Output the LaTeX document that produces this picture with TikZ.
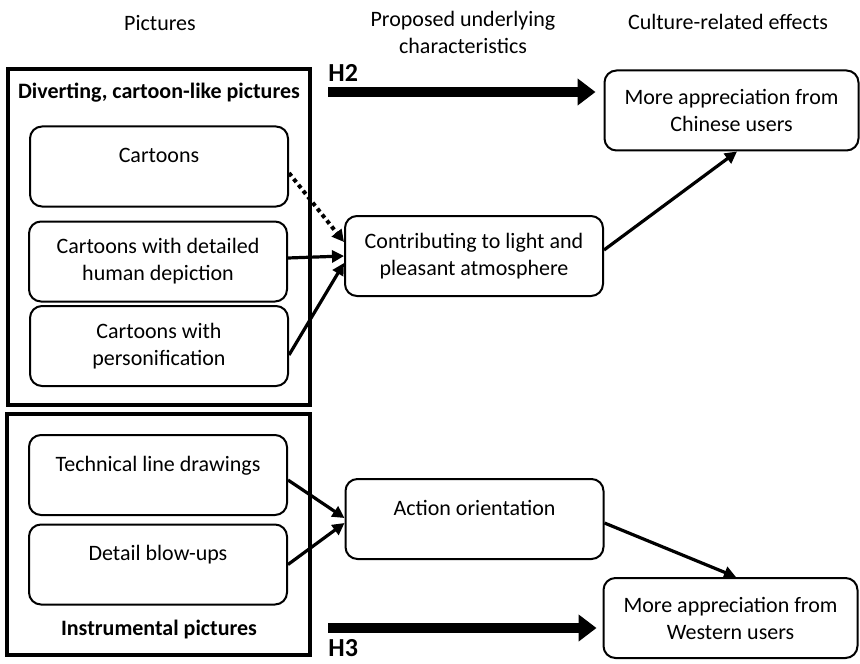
\documentclass[tikz,border=0pt]{standalone}
\usepackage{fontspec}
\setmainfont{Carlito}
\usetikzlibrary{arrows.meta}
\def\divertframe{(8,69) rectangle (310,405)}
\def\instrframe{(7,414) rectangle (310,655)}
\tikzset{itembox/.style={draw, line width=1pt, rounded corners=6pt, minimum width=129pt, minimum height=40pt, align=center, inner sep=2pt},
	topline/.style={text height=8pt, text depth=12pt},
	outerframe/.style={draw, line width=1.8pt},
	grouplabel/.style={font=\bfseries},
	hyplabel/.style={font=\bfseries\fontsize{13}{15}\selectfont, inner sep=1pt},
	link/.style={line width=1.6pt, -{Triangle[length=6pt,width=6pt]}},
	hypo/.style={line width=5pt, -{Triangle[length=9pt,width=13pt]}}}

\begin{document}
\fontsize{11}{13.5}\selectfont
\begin{tikzpicture}[x=0.5pt, y=-0.5pt]
		\useasboundingbox (0,0) rectangle (860,663);
		\node (hpics) at (160,23) {Pictures};
		\node[align=center] (hchar) at (463,32) {Proposed underlying\\characteristics};
		\node (heff) at (728,22) {Culture-related effects};
		
		\draw[outerframe] \divertframe;
		\draw[outerframe] \instrframe;
		\node[grouplabel] (divlab) at (159,93) {Diverting, cartoon-like pictures};
		\node[grouplabel] (inslab) at (159,630) {Instrumental pictures};
		
		\node[itembox, topline] (cart) at (159,166.5) {Cartoons};
		\node[itembox] (cdet) at (158,261.5) {Cartoons with detailed\\human depiction};
		\node[itembox] (cpers) at (159,346) {Cartoons with\\personification};
		\node[itembox, topline] (tech) at (158,475) {Technical line drawings};
		\node[itembox, topline] (blow) at (158,564.5) {Detail blow-ups};
		
		\node[itembox] (light) at (474,256) {Contributing to light and\\pleasant atmosphere};
		\node[itembox, topline] (action) at (474.5,519) {Action orientation};
		\node[itembox, minimum width=127pt] (chinese) at (731.5,110.5) {More appreciation from\\Chinese users};
		\node[itembox, minimum width=127pt] (western) at (730.5,618) {More appreciation from\\Western users};
		
		\coordinate (h2s) at (328,92);
		\coordinate (h3s) at (328,628);
		\draw[hypo, shorten >=4pt] (h2s) -- (h2s -| chinese.west);
		\draw[hypo, shorten >=3pt] (h3s) -- (h3s -| western.west);
		\node[hyplabel, anchor=west] (h2) at (326,73) {H2};
		\node[hyplabel, anchor=west] (h3) at (326,648) {H3};
		
		\draw[link, line width=2pt, dash pattern=on 2pt off 1.8pt] ([yshift=-3.25pt]cart.east) -- ([yshift=7pt]light.west);
		\draw[link] ([yshift=1.75pt]cdet.east) -- (light.west);
		\draw[link] ([yshift=-4.5pt]cpers.east) -- ([yshift=-3.5pt]light.west);
		\draw[link] ([yshift=3pt]light.east) -- ([xshift=2.75pt]chinese.south);
		\draw[link] ([yshift=-2.5pt]tech.east) -- ([yshift=0.5pt]action.west);
		\draw[link] (blow.east) -- ([yshift=-2pt]action.west);
		\draw[link] ([yshift=-2pt]action.east) -- ([xshift=2.75pt]western.north);
		\end{tikzpicture}
\end{document}
